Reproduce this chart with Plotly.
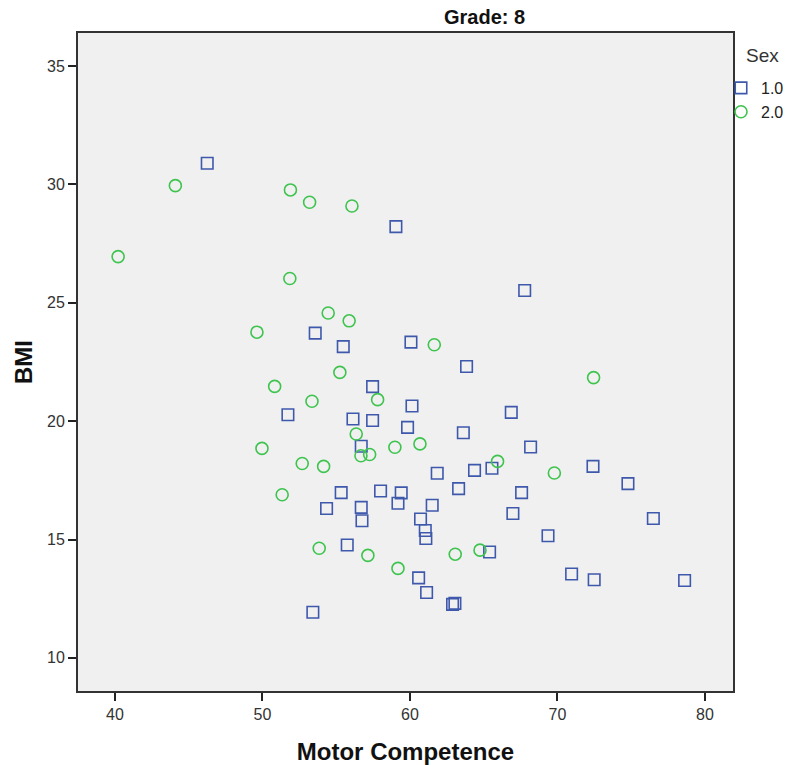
import plotly.graph_objects as go

# Grade 8: Motor Competence vs BMI, split by Sex
male_mc = [46.26, 59.05, 67.78, 53.58, 55.48, 60.07, 63.84, 57.47, 60.14, 51.73,
           56.14, 57.47, 59.84, 63.62, 56.70, 61.85, 64.38, 65.56, 63.30, 55.34,
           58.01, 59.41, 59.19, 61.51, 54.35, 56.70, 56.75, 60.72, 61.04, 61.08,
           55.75, 65.40, 60.59, 61.13, 62.89, 63.05, 53.42, 66.87, 68.18, 72.41,
           74.78, 67.57, 66.98, 76.50, 69.36, 70.96, 72.49, 78.62]
male_bmi = [30.90, 28.22, 25.52, 23.72, 23.15, 23.34, 22.31, 21.46, 20.64, 20.27,
            20.09, 20.03, 19.74, 19.51, 18.94, 17.80, 17.92, 18.01, 17.15, 16.98,
            17.05, 16.97, 16.53, 16.45, 16.31, 16.36, 15.79, 15.87, 15.38, 15.04,
            14.77, 14.47, 13.38, 12.76, 12.26, 12.30, 11.93, 20.37, 18.91, 18.09,
            17.36, 16.98, 16.10, 15.89, 15.16, 13.54, 13.30, 13.27]

female_mc = [40.22, 44.10, 51.90, 53.20, 56.07, 51.86, 54.46, 55.88, 49.63, 61.65,
             55.25, 50.83, 57.81, 53.36, 56.36, 49.97, 58.98, 60.68, 56.68, 57.27,
             52.70, 54.15, 65.94, 51.34, 53.85, 57.15, 59.19, 63.07, 64.75, 72.45,
             69.79]
female_bmi = [26.95, 29.95, 29.77, 29.25, 29.09, 26.03, 24.57, 24.24, 23.76, 23.23,
              22.06, 21.47, 20.91, 20.84, 19.46, 18.85, 18.90, 19.04, 18.54, 18.59,
              18.21, 18.09, 18.30, 16.89, 14.63, 14.33, 13.78, 14.38, 14.55, 21.84,
              17.81]

x_ticks = [40, 50, 60, 70, 80]
y_ticks = [10, 15, 20, 25, 30, 35]

BLUE = "#3e58ac"
GREEN = "#3ec44e"
FONT = "Liberation Sans, Arial, sans-serif"

# plot area in pixels
W, H = 787, 765
L, R, T, B = 78, 733, 33, 691
PW, PH = R - L, B - T


def px_x(p):
    return (p - L) / PW


def px_y(p):
    return (B - p) / PH


fig = go.Figure()
fig.add_trace(go.Scatter(
    x=male_mc, y=male_bmi, mode="markers", name="1.0",
    marker=dict(symbol="square-open", size=11.5, color=BLUE, line=dict(width=1.6, color=BLUE)),
))
fig.add_trace(go.Scatter(
    x=female_mc, y=female_bmi, mode="markers", name="2.0",
    marker=dict(symbol="circle-open", size=12, color=GREEN, line=dict(width=1.6, color=GREEN)),
))

fig.update_layout(
    width=W, height=H,
    margin=dict(l=L, r=W - R, t=T, b=H - B, autoexpand=False),
    paper_bgcolor="white",
    plot_bgcolor="#f0f0f0",
    font=dict(family=FONT, color="#333333", size=16),
    legend=dict(
        x=px_x(721), y=px_y(71), xanchor="left", yanchor="top",
        bgcolor="rgba(0,0,0,0)", borderwidth=0,
        font=dict(size=16, color="#222222"),
        itemwidth=30, tracegroupgap=0,
    ),
    showlegend=True,
    annotations=[
        dict(text="<b>Grade: 8</b>", x=px_x(485), y=px_y(17), xref="paper", yref="paper",
             xanchor="center", yanchor="middle", showarrow=False,
             font=dict(size=20, color="#111111", family=FONT)),
        dict(text="Sex", x=px_x(762), y=px_y(55), xref="paper", yref="paper",
             xanchor="center", yanchor="middle", showarrow=False,
             font=dict(size=19, color="#333333", family=FONT)),
    ],
)

fig.update_xaxes(
    range=[37.5, 81.9], tickvals=x_ticks, ticks="outside", ticklen=8, tickwidth=1.5,
    tickcolor="#222222", showgrid=False, zeroline=False,
    showline=True, linecolor="#333333", linewidth=2, mirror=True,
    tickfont=dict(size=16, color="#333333"),
    title=dict(text="<b>Motor Competence</b>", font=dict(size=24, color="#111111"), standoff=24),
)
fig.update_yaxes(
    range=[8.6, 36.4], tickvals=y_ticks, ticks="outside", ticklen=8, tickwidth=1.5,
    tickcolor="#222222", showgrid=False, zeroline=False,
    showline=True, linecolor="#333333", linewidth=2, mirror=True,
    tickfont=dict(size=16, color="#333333"),
    title=dict(text="<b>BMI</b>", font=dict(size=24, color="#111111"), standoff=8),
)

fig.write_html("out.html")
